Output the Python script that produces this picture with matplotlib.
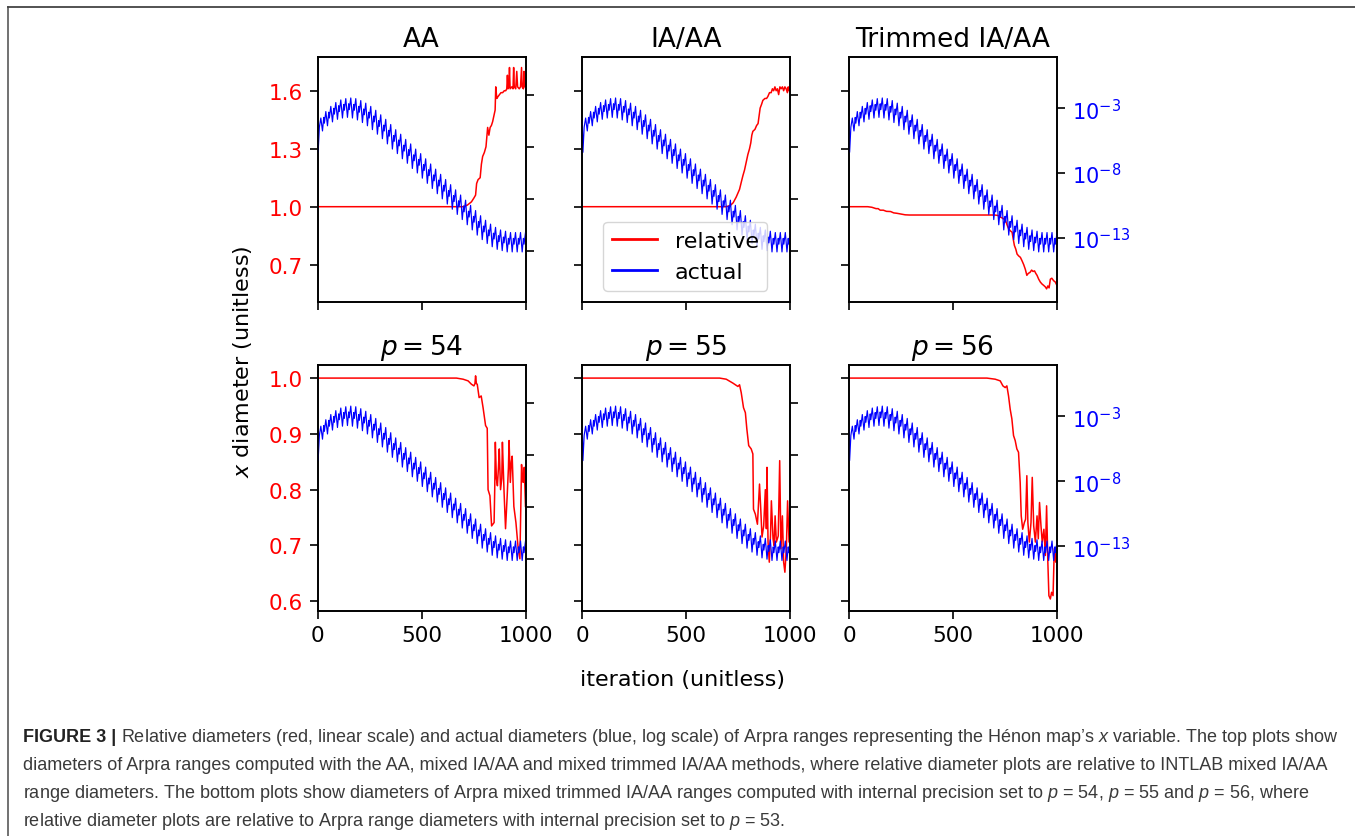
import numpy as np
import matplotlib
matplotlib.use("Agg")
import matplotlib.pyplot as plt
from matplotlib.lines import Line2D
from matplotlib.ticker import NullLocator

# ---------------- data ----------------
titles = ["AA", "IA/AA", "Trimmed IA/AA", "$p = 54$", "$p = 55$", "$p = 56$"]
legend_labels = ["relative", "actual"]
x_ticks = [0, 500, 1000]
rel_ticks_top = [0.7, 1.0, 1.3, 1.6]
rel_ticks_bottom = [0.6, 0.7, 0.8, 0.9, 1.0]
rel_lim_top = (0.507, 1.776)
rel_lim_bottom = (0.583, 1.024)
act_exp_lim = (-17.97, 0.99)
act_tick_exp_hidden = [-14, -10, -6, -2]
act_tick_exp_shown = [-13, -8, -3]

# actual diameter (log10 of value), one zig-zag tooth per row
actual_iter = [
    0, 3, 9, 16,
    24, 30, 33, 40,
    48, 54, 57, 64,
    72, 78, 81, 88,
    96, 102, 105, 112,
    120, 126, 129, 136,
    144, 150, 153, 160,
    168, 174, 177, 184,
    192, 198, 201, 208,
    216, 222, 225, 232,
    240, 246, 249, 256,
    264, 270, 273, 280,
    288, 294, 297, 304,
    312, 318, 321, 328,
    336, 342, 345, 352,
    360, 366, 369, 376,
    384, 390, 393, 400,
    408, 414, 417, 424,
    432, 438, 441, 448,
    456, 462, 465, 472,
    480, 486, 489, 496,
    504, 510, 513, 520,
    528, 534, 537, 544,
    552, 558, 561, 568,
    576, 582, 585, 592,
    600, 606, 609, 616,
    624, 630, 633, 640,
    648, 654, 657, 664,
    672, 678, 681, 688,
    696, 702, 705, 712,
    720, 726, 729, 736,
    744, 750, 753, 760,
    768, 774, 777, 784,
    792, 798, 801, 808,
    816, 822, 825, 832,
    840, 846, 849, 856,
    864, 870, 873, 880,
    888, 894, 897, 904,
    912, 918, 921, 928,
    936, 942, 945, 952,
    960, 966, 969, 976,
    984, 990, 993, 1000,
]
actual_log10 = [
    -4.0, -6.4, -4.45, -3.75,
    -4.75, -3.7, -4.15, -3.25,
    -4.35, -3.3, -3.75, -2.85,
    -4.05, -3.0, -3.45, -2.55,
    -3.85, -2.8, -3.25, -2.35,
    -3.75, -2.7, -3.15, -2.25,
    -3.7, -2.65, -3.1, -2.2,
    -3.75, -2.7, -3.15, -2.25,
    -3.9, -2.85, -3.3, -2.4,
    -4.1, -3.05, -3.5, -2.6,
    -4.35, -3.3, -3.75, -2.85,
    -4.65, -3.6, -4.05, -3.15,
    -5.0, -3.95, -4.4, -3.5,
    -5.35, -4.3, -4.75, -3.85,
    -5.75, -4.7, -5.15, -4.25,
    -6.15, -5.1, -5.55, -4.65,
    -6.5, -5.45, -5.9, -5.0,
    -6.9, -5.85, -6.3, -5.4,
    -7.25, -6.2, -6.65, -5.75,
    -7.65, -6.6, -7.05, -6.15,
    -8.0, -6.95, -7.4, -6.5,
    -8.4, -7.35, -7.8, -6.9,
    -8.8, -7.75, -8.2, -7.3,
    -9.2, -8.15, -8.6, -7.7,
    -9.6, -8.55, -9.0, -8.1,
    -10.0, -8.95, -9.4, -8.5,
    -10.4, -9.35, -9.8, -8.9,
    -10.8, -9.75, -10.2, -9.3,
    -11.2, -10.15, -10.6, -9.7,
    -11.6, -10.55, -11.0, -10.1,
    -12.0, -10.95, -11.4, -10.5,
    -12.4, -11.35, -11.8, -10.9,
    -12.8, -11.75, -12.2, -11.3,
    -13.15, -12.1, -12.55, -11.65,
    -13.45, -12.4, -12.85, -11.95,
    -13.7, -12.65, -13.1, -12.2,
    -13.9, -12.85, -13.3, -12.4,
    -14.0, -12.95, -13.4, -12.5,
    -14.1, -13.05, -13.5, -12.6,
    -14.1, -13.05, -13.5, -12.6,
    -14.1, -13.05, -13.5, -12.6,
    -14.1, -13.05, -13.5, -12.6,
]

# relative diameters, one series per panel
rel_aa_iter = [0, 700, 720, 740, 752, 760, 765, 772, 782, 788, 794, 802, 810, 818, 824,
               830, 836, 842, 848, 854, 857, 862, 868, 875, 882, 890, 898, 905, 910,
               913, 916, 920, 923, 926, 934, 940, 943, 946, 953, 958, 962, 970, 976,
               981, 984, 990, 993, 996, 1000]
rel_aa_val = [1.0, 1.0, 1.008, 1.025, 1.045, 1.06, 1.12, 1.14, 1.15, 1.22, 1.26, 1.28,
              1.31, 1.41, 1.37, 1.41, 1.42, 1.44, 1.47, 1.50, 1.62, 1.56, 1.57, 1.58,
              1.59, 1.59, 1.60, 1.60, 1.61, 1.68, 1.61, 1.62, 1.72, 1.61, 1.62, 1.61,
              1.72, 1.62, 1.61, 1.70, 1.62, 1.61, 1.62, 1.72, 1.62, 1.61, 1.70, 1.62, 1.64]

rel_iaaa_iter = [0, 690, 710, 725, 740, 756, 765, 772, 780, 788, 796, 804, 810, 815, 820,
                 830, 838, 845, 850, 855, 862, 868, 878, 886, 892, 900, 908, 914, 920,
                 926, 932, 938, 944, 950, 956, 962, 968, 974, 980, 986, 990, 994, 1000]
rel_iaaa_val = [1.0, 1.0, 1.005, 1.02, 1.05, 1.09, 1.13, 1.16, 1.19, 1.23, 1.27, 1.30,
                1.33, 1.37, 1.39, 1.40, 1.42, 1.43, 1.47, 1.51, 1.53, 1.55, 1.56, 1.56,
                1.57, 1.59, 1.59, 1.61, 1.60, 1.62, 1.60, 1.61, 1.58, 1.62, 1.61, 1.62,
                1.60, 1.62, 1.61, 1.59, 1.62, 1.60, 1.62]

rel_trim_iter = [0, 90, 110, 130, 140, 150, 165, 180, 200, 215, 230, 250, 270, 290, 400,
                 500, 600, 700, 715, 728, 740, 752, 762, 768, 776, 784, 790, 795, 802,
                 808, 816, 824, 832, 840, 848, 855, 862, 870, 878, 885, 892, 898, 904,
                 912, 920, 928, 936, 944, 950, 956, 962, 968, 975, 984, 992, 1000]
rel_trim_val = [1.0, 1.0, 0.997, 0.99, 0.99, 0.982, 0.982, 0.976, 0.975, 0.968, 0.966,
                0.962, 0.958, 0.957, 0.957, 0.957, 0.957, 0.957, 0.955, 0.946, 0.94,
                0.93, 0.90, 0.885, 0.875, 0.868, 0.83, 0.80, 0.78, 0.755, 0.745, 0.738,
                0.72, 0.70, 0.675, 0.645, 0.655, 0.66, 0.672, 0.665, 0.668, 0.655, 0.645,
                0.625, 0.61, 0.60, 0.593, 0.585, 0.575, 0.59, 0.58, 0.625, 0.63, 0.617,
                0.61, 0.592]

rel_p54_iter = [0, 668, 700, 724, 740, 752, 757, 760, 764, 768, 777, 787, 796, 808, 816,
                820, 829, 837, 849, 852, 855, 860, 865, 870, 874, 880, 886, 889, 893,
                897, 904, 912, 918, 921, 927, 932, 936, 944, 954, 965, 973, 977, 981,
                985, 989, 994, 1000]
rel_p54_val = [1.0, 1.0, 0.998, 0.995, 0.989, 0.986, 0.99, 1.004, 0.99, 0.989, 0.965,
               0.968, 0.947, 0.915, 0.91, 0.80, 0.789, 0.735, 0.741, 0.80, 0.885, 0.82,
               0.807, 0.84, 0.873, 0.80, 0.82, 0.885, 0.84, 0.795, 0.73, 0.789, 0.84,
               0.888, 0.813, 0.85, 0.86, 0.77, 0.741, 0.694, 0.676, 0.76, 0.845, 0.82,
               0.813, 0.84, 0.77]

rel_p55_iter = [0, 660, 692, 724, 748, 756, 764, 775, 784, 791, 800, 812, 820, 823, 832,
                842, 852, 858, 864, 872, 880, 885, 888, 893, 899, 905, 909, 917, 922,
                927, 933, 942, 949, 955, 962, 968, 974, 981, 987, 994, 1000]
rel_p55_val = [1.0, 1.0, 0.998, 0.991, 0.985, 0.988, 0.974, 0.947, 0.938, 0.909, 0.879,
               0.873, 0.864, 0.765, 0.756, 0.738, 0.81, 0.765, 0.715, 0.735, 0.80, 0.73,
               0.84, 0.706, 0.67, 0.72, 0.78, 0.712, 0.70, 0.753, 0.706, 0.717, 0.852,
               0.694, 0.753, 0.67, 0.652, 0.694, 0.78, 0.706, 0.741]

rel_p56_iter = [0, 663, 703, 727, 740, 751, 759, 767, 775, 783, 791, 799, 807, 815, 823,
                828, 835, 843, 849, 855, 860, 867, 875, 881, 888, 896, 904, 910, 916,
                923, 929, 937, 944, 950, 956, 961, 968, 974, 981, 987, 994, 1000]
rel_p56_val = [1.0, 1.0, 0.998, 0.995, 0.986, 0.983, 0.986, 0.968, 0.944, 0.927, 0.897,
               0.888, 0.873, 0.867, 0.813, 0.753, 0.729, 0.741, 0.747, 0.825, 0.741,
               0.706, 0.741, 0.822, 0.735, 0.706, 0.753, 0.712, 0.777, 0.735, 0.706,
               0.729, 0.682, 0.771, 0.67, 0.61, 0.604, 0.616, 0.61, 0.694, 0.67, 0.70]

rel_iters = [rel_aa_iter, rel_iaaa_iter, rel_trim_iter, rel_p54_iter, rel_p55_iter, rel_p56_iter]
rel_vals = [rel_aa_val, rel_iaaa_val, rel_trim_val, rel_p54_val, rel_p55_val, rel_p56_val]

caption_head = "FIGURE 3 |"
caption_lines = [
    "Relative diameters (red, linear scale) and actual diameters (blue, log scale) of Arpra ranges representing the Hénon map’s $x$ variable. The top plots show",
    "diameters of Arpra ranges computed with the AA, mixed IA/AA and mixed trimmed IA/AA methods, where relative diameter plots are relative to INTLAB mixed IA/AA",
    "range diameters. The bottom plots show diameters of Arpra mixed trimmed IA/AA ranges computed with internal precision set to $p$ = 54, $p$ = 55 and $p$ = 56, where",
    "relative diameter plots are relative to Arpra range diameters with internal precision set to $p$ = 53.",
]

# ---------------- styling ----------------
plt.rcParams["font.family"] = ["DejaVu Sans"]
plt.rcParams["mathtext.fontset"] = "dejavusans"
plt.rcParams["mathtext.rm"] = "Liberation Sans"
plt.rcParams["mathtext.it"] = "Liberation Sans:italic"
plt.rcParams["mathtext.bf"] = "Liberation Sans:bold"
plt.rcParams["axes.linewidth"] = 1.2

W, H = 1355, 837
fig = plt.figure(figsize=(W / 100, H / 100), dpi=100)

lefts_px = [317.5, 582.3, 849.0]
width_px = 208.0
rows_px = [(57.7, 303.0), (365.7, 611.7)]

TICK_FS = 15.5
RTICK_FS = 15
TITLE_FS = 19
TICK_LEN = 5.5
TICK_PAD = 5

for i in range(6):
    r, c = divmod(i, 3)
    top, bot = rows_px[r]
    ax = fig.add_axes([lefts_px[c] / W, 1 - bot / H, width_px / W, (bot - top) / H])
    ax.plot(rel_iters[i], rel_vals[i], color="red", lw=1.1)
    ax.set_xlim(0, 1000)
    ax.set_xticks(x_ticks)
    if r == 0:
        ax.set_ylim(*rel_lim_top)
        ax.set_yticks(rel_ticks_top)
    else:
        ax.set_ylim(*rel_lim_bottom)
        ax.set_yticks(rel_ticks_bottom)
    ax.tick_params(axis="both", length=TICK_LEN, width=1.2, labelsize=TICK_FS, pad=TICK_PAD)
    ax.tick_params(axis="y", labelcolor="red", labelleft=(c == 0))
    ax.tick_params(axis="x", labelbottom=(r == 1))
    ax.set_title(titles[i], fontsize=TITLE_FS, pad=8)

    ax2 = ax.twinx()
    ax2.plot(actual_iter, 10.0 ** np.array(actual_log10), color="blue", lw=0.85)
    ax2.set_yscale("log")
    ax2.set_ylim(10.0 ** act_exp_lim[0], 10.0 ** act_exp_lim[1])
    exps = act_tick_exp_shown if c == 2 else act_tick_exp_hidden
    ax2.set_yticks([10.0 ** e for e in exps])
    ax2.yaxis.set_minor_locator(NullLocator())
    ax2.tick_params(axis="y", length=TICK_LEN, width=1.2, labelsize=RTICK_FS,
                    pad=TICK_PAD, labelcolor="blue", labelright=(c == 2))
    for sp in ax2.spines.values():
        sp.set_linewidth(1.2)

    if i == 1:
        handles = [Line2D([], [], color="red", lw=2), Line2D([], [], color="blue", lw=2)]
        ax2.legend(handles, legend_labels, loc="lower right",
                   bbox_to_anchor=(0.89, 0.046), borderaxespad=0, fontsize=16)

fig.text(242.5 / W, 1 - 362 / H, "$x$ diameter (unitless)", rotation=90,
         ha="center", va="center", fontsize=16)
fig.text(683 / W, 1 - 680 / H, "iteration (unitless)", ha="center", va="center",
         fontsize=16)

# frame (top and left border)
fig.add_artist(Line2D([7.7 / W, 7.7 / W], [0, 1 - 8.3 / H], transform=fig.transFigure,
                      color="#666666", lw=1.3))
fig.add_artist(Line2D([7.7 / W, 1], [1 - 8.3 / H, 1 - 8.3 / H], transform=fig.transFigure,
                      color="#444444", lw=1.3))

# caption
CAP_FS = 13
renderer = fig.canvas.get_renderer()
baselines = [742, 770, 798, 826]
x0 = 22.7
head = fig.text(x0 / W, 1 - baselines[0] / H, caption_head, fontsize=CAP_FS,
                family="Liberation Sans", weight="bold", color="#222222",
                ha="left", va="baseline")
hw = head.get_window_extent(renderer).width
for k, line in enumerate(caption_lines):
    xs = x0 + (hw + 5.0 if k == 0 else 0.0)
    fig.text(xs / W, 1 - baselines[k] / H, line, fontsize=CAP_FS,
             family="Liberation Sans", color="#3a3a3a", ha="left", va="baseline",
             math_fontfamily="custom")

fig.savefig("out.png", dpi=100)
